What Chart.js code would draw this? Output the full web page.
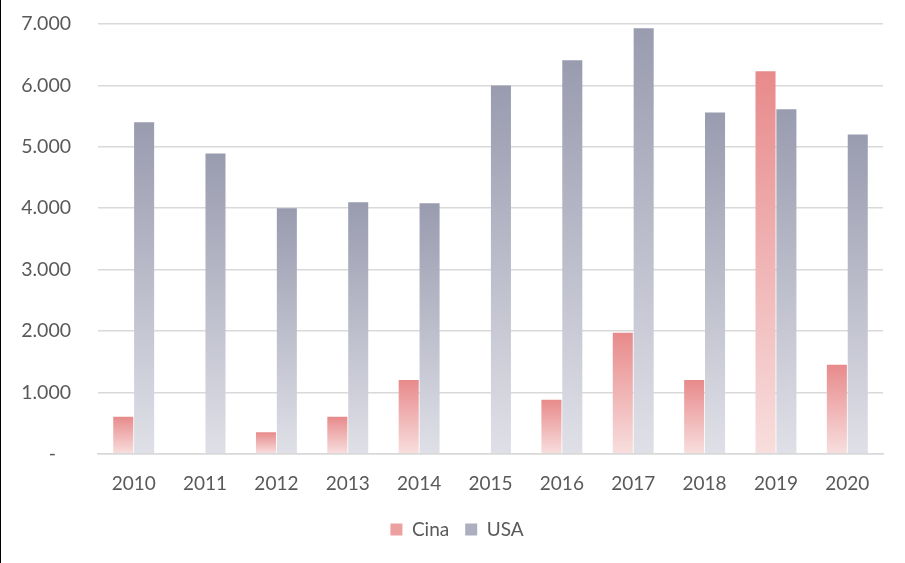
<!DOCTYPE html>
<html>
<head>
<meta charset="utf-8">
<script src="https://cdn.jsdelivr.net/npm/chart.js@4.4.0/dist/chart.umd.min.js"></script>
<style>
  html, body { margin: 0; padding: 0; background: #fff; }
  #wrap { width: 904px; height: 563px; border-left: 1px solid #000; }
</style>
</head>
<body>
<div id="wrap"><canvas id="myChart" width="904" height="563"></canvas></div>
<script>
// data
const years = ['2010', '2011', '2012', '2013', '2014', '2015', '2016', '2017', '2018', '2019', '2020'];
const cina = [600, 0, 350, 600, 1200, 0, 880, 1970, 1200, 6230, 1450];
const usa = [5400, 4890, 4000, 4095, 4080, 6000, 6410, 6930, 5560, 5610, 5200];
const yTickLabels = ['-   ', '1.000', '2.000', '3.000', '4.000', '5.000', '6.000', '7.000'];

const textColor = '#595959';
const gridColor = '#D9D9D9';
const legendColors = ['#ECA0A0', '#ADAEC0'];

// each bar gets its own top-to-bottom gradient, like the Excel fill
function barFill(top, bottom, mid) {
    return function (ctx) {
        if (ctx.type !== 'data') return mid;
        const chart = ctx.chart;
        const y = chart.scales.y;
        if (!y || !chart.chartArea) return mid;
        const yTop = y.getPixelForValue(ctx.parsed.y);
        const yBase = y.getPixelForValue(0);
        if (!(yBase - yTop > 0.5)) return mid;
        const g = chart.ctx.createLinearGradient(0, yTop, 0, yBase);
        g.addColorStop(0, top);
        g.addColorStop(1, bottom);
        return g;
    };
}

// legend sits a bit right of the canvas centre in the original
const legendShift = {
    id: 'legendShift',
    afterLayout(chart) {
        if (chart.legend) chart.legend.left += 30;
    }
};

const data = {
    labels: years,
    datasets: [
        {
            label: 'Cina',
            data: cina,
            backgroundColor: barFill('#E88A8B', '#F8DEDE', legendColors[0]),
            borderWidth: 0,
        },
        {
            label: 'USA',
            data: usa,
            backgroundColor: barFill('#999BAF', '#DFE0E7', legendColors[1]),
            borderWidth: 0,
        },
    ]
};

const config = {
    type: 'bar',
    data,
    plugins: [legendShift],
    options: {
        responsive: false,
        animation: false,
        datasets: {
            bar: {
                categoryPercentage: 0.585,
                barPercentage: 0.96,
            }
        },
        layout: {
            padding: { left: 0, right: 22, top: 24, bottom: 14 }
        },
        plugins: {
            tooltip: { enabled: false },
            legend: {
                position: 'bottom',
                labels: {
                    boxWidth: 12,
                    boxHeight: 12,
                    padding: 16,
                    color: textColor,
                    font: { family: 'Lato', size: 19 },
                    generateLabels: chart => {
                        const items = Chart.defaults.plugins.legend.labels.generateLabels(chart);
                        items.forEach((it, i) => { it.fillStyle = legendColors[i]; });
                        return items;
                    },
                },
            },
        },
        scales: {
            x: {
                grid: { display: false, drawTicks: false },
                border: { display: true, color: gridColor, width: 1.5 },
                afterFit: scale => { scale.height -= 10.5; },
                ticks: {
                    color: textColor,
                    font: { family: 'Lato', size: 19 },
                    padding: 19,
                    maxRotation: 0,
                },
            },
            y: {
                min: 0,
                max: 7000,
                afterFit: scale => {
                    scale.width = 97;
                    // tick padding would otherwise push the plot top down
                    scale.paddingTop = 0;
                    scale.paddingBottom = 0;
                },
                grid: { color: gridColor, lineWidth: 1.5, drawTicks: false },
                border: { display: false },
                ticks: {
                    stepSize: 1000,
                    padding: 27,
                    color: textColor,
                    font: { family: 'Lato', size: 19.5 },
                    callback: (value, i) => yTickLabels[i],
                },
            },
        },
    }
};

// render
const ctx = document.getElementById('myChart');
const myChart = new Chart(ctx, config);
</script>
</body>
</html>
